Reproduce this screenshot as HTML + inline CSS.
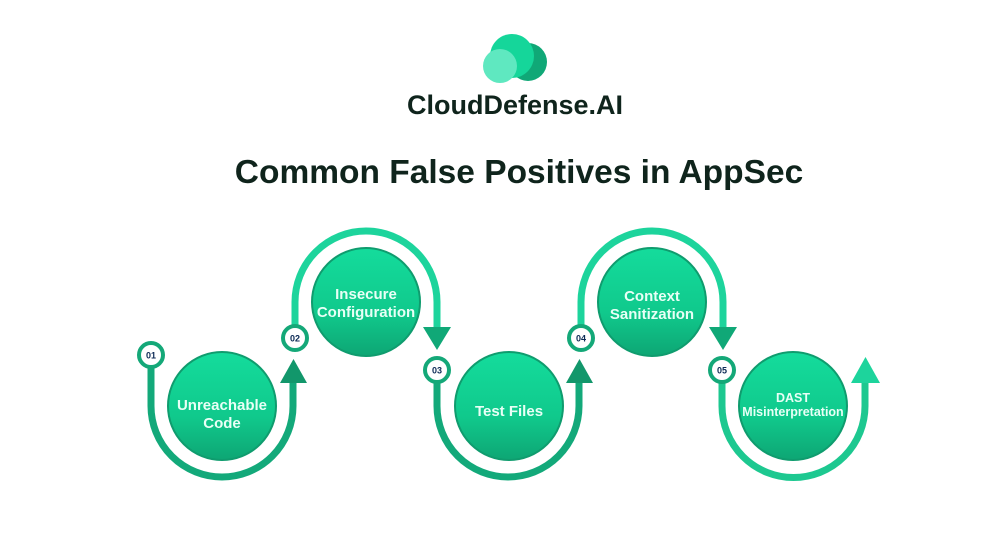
<!DOCTYPE html>
<html><head><meta charset="utf-8"><style>
html,body{margin:0;padding:0;background:#fff;}
svg{display:block}
text{font-family:"Liberation Sans",sans-serif;font-weight:bold}
</style></head><body>
<svg width="1000" height="541" viewBox="0 0 1000 541" xmlns="http://www.w3.org/2000/svg">
<defs>
<linearGradient id="cg" x1="0" y1="0" x2="0" y2="1">
<stop offset="0" stop-color="#14dc9c"/><stop offset="0.6" stop-color="#10c98c"/><stop offset="1" stop-color="#0ea674"/>
</linearGradient>
</defs>
<!-- logo -->
<circle cx="528" cy="62" r="19" fill="#10a877"/>
<circle cx="512" cy="56" r="22" fill="#15d69a"/>
<circle cx="500" cy="66" r="17" fill="#5fe8c0"/>
<text x="515" y="114" font-size="27" fill="#0f241c" text-anchor="middle">CloudDefense.AI</text>
<text x="519" y="183" font-size="33.5" fill="#0f241c" text-anchor="middle">Common False Positives in AppSec</text>

<g fill="none" stroke-width="7">
<path d="M151 368 V406 A71 71 0 0 0 293 406 V382" stroke="#13a97a"/>
<path d="M295 325 V302 A71 71 0 0 1 437 302 V328" stroke="#1dd49c"/>
<path d="M437 383 V406 A71 71 0 0 0 579 406 V382" stroke="#13a97a"/>
<path d="M581 325 V302 A71 71 0 0 1 723 302 V328" stroke="#1dd49c"/>
<path d="M722 383 V406 A71 71 0 0 0 865 406 V380" stroke="#1dc890"/>
</g>
<polygon points="280,383 307,383 293.5,359" fill="#12976b"/>
<polygon points="423,327 451,327 437,350" fill="#10a877"/>
<polygon points="566,383 593,383 579.5,359" fill="#12976b"/>
<polygon points="709,327 737,327 723,350" fill="#10a877"/>
<polygon points="851,383 880,383 865.5,357" fill="#1dd49c"/>

<g stroke="#0f9c6e" stroke-width="2" fill="url(#cg)">
<circle cx="222" cy="406" r="54"/>
<circle cx="366" cy="302" r="54"/>
<circle cx="509" cy="406" r="54"/>
<circle cx="652" cy="302" r="54"/>
<circle cx="793" cy="406" r="54"/>
</g>
<g fill="#e8fff6" font-size="15" text-anchor="middle">
<text x="222" y="410">Unreachable</text><text x="222" y="428">Code</text>
<text x="366" y="299">Insecure</text><text x="366" y="317">Configuration</text>
<text x="509" y="416">Test Files</text>
<text x="652" y="301">Context</text><text x="652" y="319">Sanitization</text>
<text x="793" y="402" font-size="12.5">DAST</text><text x="793" y="416" font-size="12.5">Misinterpretation</text>
</g>
<g fill="#fff" stroke="#14a878" stroke-width="4">
<circle cx="151" cy="355" r="12"/>
<circle cx="295" cy="338" r="12"/>
<circle cx="437" cy="370" r="12"/>
<circle cx="581" cy="338" r="12"/>
<circle cx="722" cy="370" r="12"/>
</g>
<g fill="#0c2a55" font-size="9" text-anchor="middle">
<text x="151" y="358.5">01</text>
<text x="295" y="341.5">02</text>
<text x="437" y="373.5">03</text>
<text x="581" y="341.5">04</text>
<text x="722" y="373.5">05</text>
</g>
</svg>
</body></html>
